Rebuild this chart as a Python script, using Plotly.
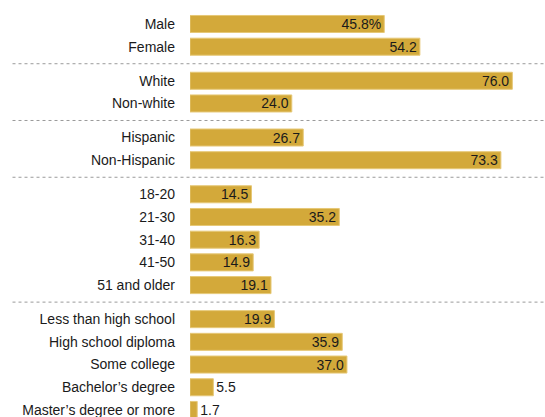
import plotly.graph_objects as go

categories = ["Male", "Female",
              "White", "Non-white",
              "Hispanic", "Non-Hispanic",
              "18-20", "21-30", "31-40", "41-50", "51 and older",
              "Less than high school", "High school diploma", "Some college",
              "Bachelor’s degree", "Master’s degree or more"]
values = [45.8, 54.2,
          76.0, 24.0,
          26.7, 73.3,
          14.5, 35.2, 16.3, 14.9, 19.1,
          19.9, 35.9, 37.0, 5.5, 1.7]
group = [0, 0, 1, 1, 2, 2, 3, 3, 3, 3, 3, 4, 4, 4, 4, 4]

GAP = 0.5
ypos = []
pos = 0.0
for i, g in enumerate(group):
    if i > 0:
        pos += 1.0 + (GAP if g != group[i - 1] else 0.0)
    ypos.append(pos)

texts = [f"{v:.1f}" + ("%" if i == 0 else "") for i, v in enumerate(values)]
textpos = ["inside" if v >= 10 else "outside" for v in values]

FONT = "Liberation Sans, Arial, sans-serif"

fig = go.Figure(go.Bar(
    x=values, y=ypos, orientation="h",
    marker=dict(color="#D3A93A", line=dict(color="#E6C877", width=1)),
    width=0.75,
    text=texts, textposition=textpos, insidetextanchor="end",
    textfont=dict(family=FONT, size=14, color="#1a1a1a"),
    cliponaxis=False, hoverinfo="skip",
))

shapes = []
for i in range(1, len(group)):
    if group[i] != group[i - 1]:
        ymid = (ypos[i] + ypos[i - 1]) / 2
        shapes.append(dict(type="line", xref="paper", yref="y",
                           x0=-0.50, x1=1.0, y0=ymid, y1=ymid,
                           line=dict(color="#9a9a9a", width=1, dash="dot")))

fig.update_layout(
    width=545, height=417,
    margin=dict(l=190, r=0, t=0, b=0),
    plot_bgcolor="white", paper_bgcolor="white",
    showlegend=False,
    shapes=shapes,
    uniformtext=dict(minsize=14, mode="show"),
    font=dict(family=FONT, size=14, color="#1a1a1a"),
    xaxis=dict(range=[0, 83.7], visible=False, fixedrange=True),
    yaxis=dict(range=[17.31, -1.057], tickvals=ypos, ticktext=categories,
               showgrid=False, zeroline=False, showline=False, ticks="",
               ticklabelstandoff=14, ticklabeloverflow="allow",
               tickfont=dict(family=FONT, size=14, color="#1a1a1a")),
)

fig.write_html("out.html")
